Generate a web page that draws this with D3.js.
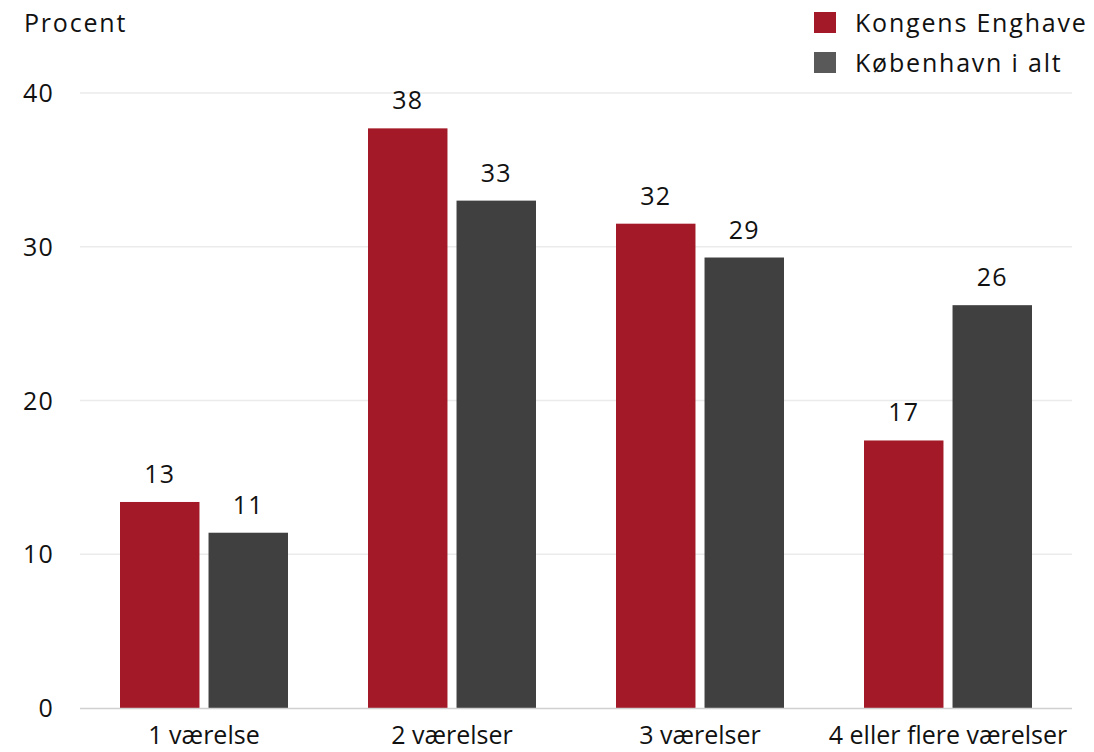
<!DOCTYPE html>
<html><head><meta charset="utf-8">
<script src="https://cdn.jsdelivr.net/npm/d3@7"></script>
<style>body{margin:0;background:#fff}svg{display:block}text{font-family:"Open Sans",sans-serif;fill:#111;font-size:25px}
.wide{letter-spacing:1.8px}.num{letter-spacing:1.2px}</style>
</head><body><div id="c"></div>
<script>
const categories = ["1 værelse","2 værelser","3 værelser","4 eller flere værelser"];
const seriesNames = ["Kongens Enghave","København i alt"];
const kongensEnghave = [13.4, 37.7, 31.5, 17.4];
const kobenhavn = [11.4, 33.0, 29.3, 26.2];
const labelsKE = ["13","38","32","17"];
const labelsKBH = ["11","33","29","26"];
const yTicks = [0,10,20,30,40];
const colors = ["#a31927","#404040"];
const legendColors = ["#a31927","#595959"];

const W=1094,H=752;
const svg=d3.select("#c").append("svg").attr("width",W).attr("height",H);
const x0=d3.scaleBand().domain(categories).range([80,1072]).paddingInner(0).paddingOuter(0);
const y=d3.scaleLinear().domain([0,40]).range([708,93]);
const x1=d3.scaleBand().domain(seriesNames).range([40,208]).paddingInner(9/88).paddingOuter(0);

svg.append("g").selectAll("line").data(yTicks.filter(d=>d>0)).join("line")
 .attr("x1",80).attr("x2",1072).attr("y1",d=>y(d)).attr("y2",d=>y(d))
 .attr("stroke","#ebebeb").attr("stroke-width",1.5);
svg.append("g").selectAll("text").data(yTicks).join("text").attr("class","num")
 .attr("x",54).attr("y",d=>y(d)+9).attr("text-anchor","end").text(d=>d);

const data=[kongensEnghave,kobenhavn];
const labels=[labelsKE,labelsKBH];
seriesNames.forEach((s,si)=>{
  const g=svg.append("g");
  g.selectAll("rect").data(categories).join("rect")
   .attr("x",c=>x0(c)+x1(s)).attr("width",x1.bandwidth())
   .attr("y",(c,i)=>y(data[si][i])).attr("height",(c,i)=>y(0)-y(data[si][i]))
   .attr("fill",colors[si]);
  g.selectAll("text").data(categories).join("text").attr("class","num")
   .attr("x",c=>x0(c)+x1(s)+x1.bandwidth()/2).attr("y",(c,i)=>y(data[si][i])-19)
   .attr("text-anchor","middle").text((c,i)=>labels[si][i]);
});
svg.append("line").attr("x1",80).attr("x2",1072).attr("y1",y(0)+0.5).attr("y2",y(0)+0.5)
 .attr("stroke","#d0d0d0").attr("stroke-width",1.5);
svg.append("g").selectAll("text").data(categories).join("text")
 .attr("x",c=>x0(c)+x0.bandwidth()/2).attr("y",744).attr("text-anchor","middle").text(c=>c);
svg.append("text").attr("class","wide").attr("x",24).attr("y",32).text("Procent");
seriesNames.forEach((s,i)=>{
  svg.append("rect").attr("x",814).attr("y",12+i*40).attr("width",22).attr("height",21).attr("fill",legendColors[i]);
  svg.append("text").attr("class","wide").attr("x",855).attr("y",32+i*40).text(s);
});
</script></body></html>
